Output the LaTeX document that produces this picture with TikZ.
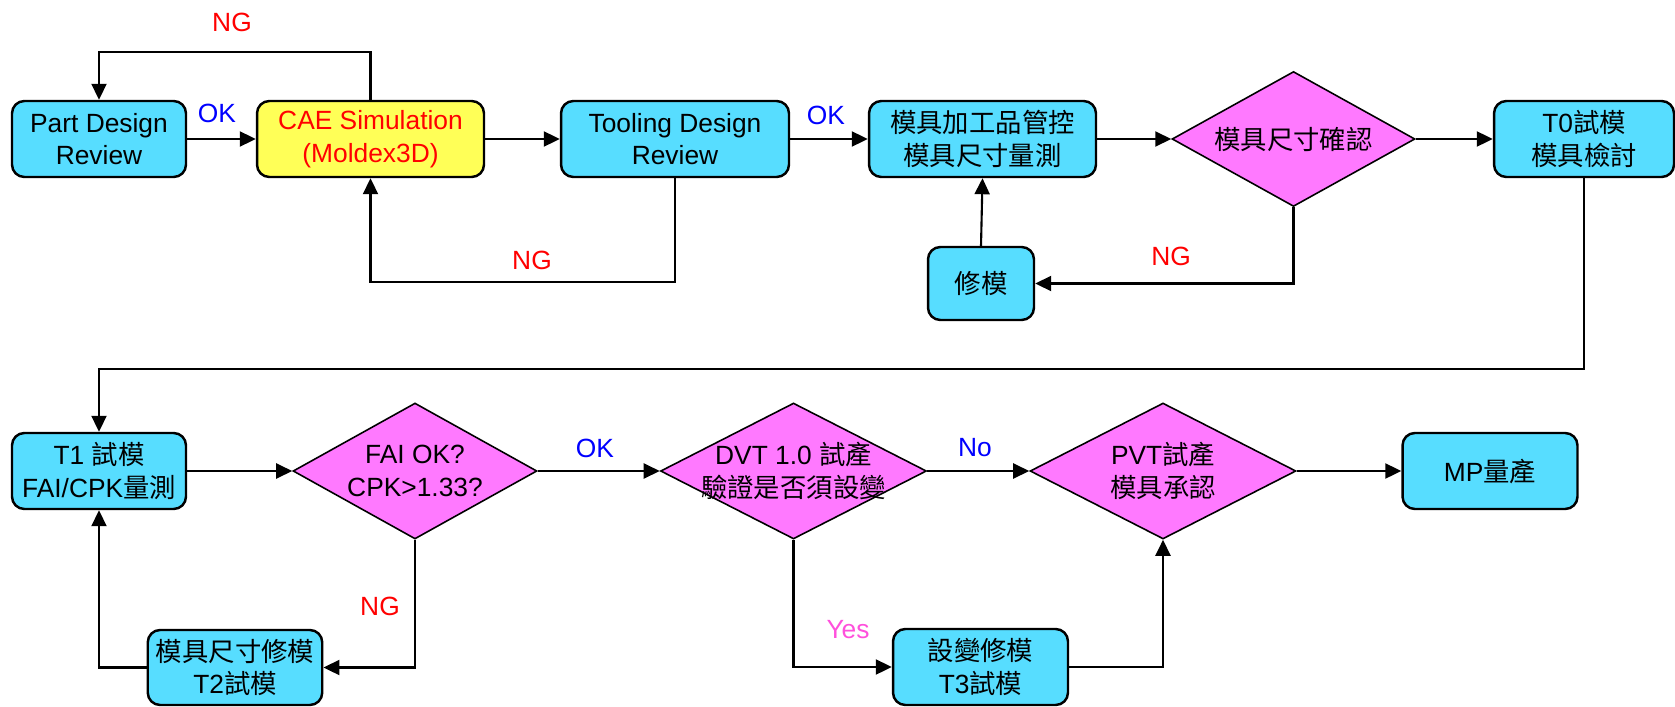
\documentclass[tikz,border=0pt]{standalone}
\usepackage{fontspec}
\setmainfont{Liberation Sans}
\newfontfamily\cjk{Noto Sans CJK TC}
\newcommand{\zh}[1]{{\cjk #1}}
\usetikzlibrary{arrows.meta}
\usetikzlibrary{shapes.geometric}

\definecolor{boxcyan}{RGB}{87,221,255}
\definecolor{boxyellow}{RGB}{255,255,87}
\definecolor{decmag}{RGB}{255,121,255}
\definecolor{yespink}{RGB}{255,80,220}

\tikzset{
  stepbox/.style={draw, line width=1.4pt, rounded corners=7pt, fill=boxcyan,
    align=center, inner sep=0pt, minimum height=1.52cm},
  decision/.style={diamond, draw, line width=0.9pt, fill=decmag, inner sep=0pt,
    minimum height=2.72cm},
  dtext/.style={align=center, inner sep=0pt},
  flow/.style={-{Triangle[length=0.32cm,width=0.3cm]}, line width=1.2pt},
  ng/.style={text=red},
  ok/.style={text=blue},
}

\begin{document}
\begin{tikzpicture}[x=0.02cm, y=-0.02cm, font=\fontsize{15pt}{18.5pt}\selectfont]
    \useasboundingbox (0,0) rectangle (1675,706);

    % top row
    \node[stepbox, minimum width=3.48cm] (part) at (99,139) {Part Design\\Review};
    \node[stepbox, minimum width=4.54cm, fill=boxyellow, text=red] (cae) at (370.5,139) {CAE Simulation\\(Moldex3D)};
    \node[stepbox, minimum width=4.56cm] (tooling) at (675,139) {Tooling Design\\Review};
    \node[stepbox, minimum width=4.54cm] (measure) at (982.5,139) {\zh{模具加工品管控}\\\zh{模具尺寸量測}};
    \node[decision, minimum width=4.86cm, minimum height=2.7cm] (check) at (1293.5,139) {};
    \node[dtext] (check-t) at (check) {\zh{模具尺寸確認}};
    \node[stepbox, minimum width=3.6cm] (t0) at (1584,139) {T0\zh{試模}\\\zh{模具檢討}};
    \node[stepbox, minimum width=2.12cm, minimum height=1.46cm] (repair) at (981,283.5) {\zh{修模}};

    % bottom row
    \node[stepbox, minimum width=3.48cm] (t1) at (99,471) {T1 \zh{試模}\\FAI/CPK\zh{量測}};
    \node[decision, minimum width=4.88cm] (fai) at (415,471) {};
    \node[dtext] (fai-t) at (fai) {FAI OK?\\CPK>1.33?};
    \node[decision, minimum width=5.32cm] (dvt) at (793.5,471) {};
    \node[dtext] (dvt-t) at (dvt) {DVT 1.0 \zh{試產}\\\zh{驗證是否須設變}};
    \node[decision, minimum width=5.32cm] (pvt) at (1163,471) {};
    \node[dtext] (pvt-t) at (pvt) {PVT\zh{試產}\\\zh{模具承認}};
    \node[stepbox, minimum width=3.5cm] (mp) at (1490,471) {MP\zh{量產}};
    \node[stepbox, minimum width=3.49cm, minimum height=1.5cm] (t2) at (235,667.5) {\zh{模具尺寸修模}\\T2\zh{試模}};
    \node[stepbox, minimum width=3.5cm] (t3) at (980.5,667) {\zh{設變修模}\\T3\zh{試模}};

    % rails for the loops
    \coordinate (rail1) at (0,52);
    \coordinate (rail2) at (0,282);
    \coordinate (rail3) at (0,369);

    % labels
    \node[ng] (ng1) at (232,22) {NG};
    \node[ok] (ok1) at (217,113) {OK};
    \node[ng] (ng2) at (532,260) {NG};
    \node[ok] (ok2) at (826,115) {OK};
    \node[ng] (ng3) at (1171,256) {NG};
    \node[ok] (ok3) at (595,448) {OK};
    \node[ok] (no1) at (975,448) {No};
    \node[ng] (ng4) at (380,606) {NG};
    \node[text=yespink] (yes1) at (848,630) {Yes};

    \draw[flow] (part) -- (cae);
    \draw[flow] (cae) -- (tooling);
    \draw[flow] (tooling) -- (measure);
    \draw[flow] (measure) -- (check);
    \draw[flow] (check) -- (t0);
    \draw[flow] (cae.north) -- (cae.north |- rail1) -| (part.north);
    \draw[flow] (tooling.south) -- (tooling.south |- rail2) -| (cae.south);
    \draw[flow] (check.south) |- (repair.east);
    \draw[flow] (repair.north) -- (measure.south);
    \draw[flow] (t0.south) -- (t0.south |- rail3) -| (t1.north);

    \draw[flow] (t1) -- (fai);
    \draw[flow] (fai) -- (dvt);
    \draw[flow] (dvt) -- (pvt);
    \draw[flow] (pvt) -- (mp);
    \draw[flow] (fai.south) |- (t2.east);
    \draw[flow] (t2.west) -| (t1.south);
    \draw[flow] (dvt.south) |- (t3.west);
    \draw[flow] (t3.east) -| (pvt.south);
\end{tikzpicture}
\end{document}
